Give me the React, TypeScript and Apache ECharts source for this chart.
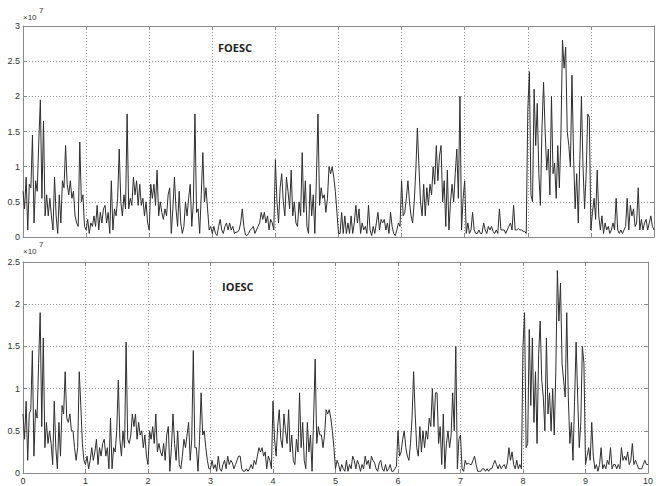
import { useEffect, useRef } from "react";
import * as echarts from "echarts";

const X_TICKS = [0, 1, 2, 3, 4, 5, 6, 7, 8, 9, 10];
const STEP = 0.025; // sampling interval along x
const TOP_TITLE = "FOESC";
const BOTTOM_TITLE = "IOESC";

// FOESC values (×10^7), x = 0 .. 4.975
const FOESC_A = [
  0.65, 0.4, 0.85, 0.1, 0.75, 0.7, 1.45, 0.2, 0.8, 0.65, 1.35, 1.95, 0.55, 1.65, 0.3, 0.6, 0.3, 0.55, 0.3, 0.1,
  0.85, 0.3, 0.05, 0.6, 0.2, 0.8, 0.7, 1.3, 0.75, 0.6, 0.8, 0.55, 0.65, 0.3, 0.2, 0.15, 1.35, 0.5, 0.6, 0.15,
  0.1, 0.25, 0.05, 0.2, 0.15, 0.3, 0.15, 0.45, 0.1, 0.35, 0.2, 0.4, 0.45, 0.2, 0.35, 0.05, 0.8, 0.1, 0.4, 0.3,
  0.55, 1.25, 0.5, 0.3, 0.6, 0.4, 1.75, 0.4, 0.55, 0.45, 0.85, 0.6, 0.8, 0.45, 0.75, 0.45, 0.55, 0.3, 0.5, 0.2,
  0.1, 0.75, 0.55, 0.75, 0.45, 0.95, 0.3, 0.5, 0.35, 0.25, 0.4, 0.3, 0.6, 0.7, 0.05, 0.4, 0.85, 0.4, 0.15, 0.65,
  0.2, 0.05, 0.15, 0.5, 0.3, 0.55, 0.75, 0.15, 0.5, 1.75, 0.35, 0.4, 0.05, 0.6, 1.2, 0.5, 0.7, 0.4, 0.1, 0.15,
  0.05, 0.15, 0.05, 0.02, 0.15, 0.25, 0.1, 0.05, 0.15, 0.2, 0.1, 0.2, 0.1, 0.15, 0.05, 0.07, 0.07, 0.1, 0.2, 0.4,
  0.15, 0.03, 0.02, 0.05, 0.1, 0.12, 0.15, 0.05, 0.1, 0.15, 0.2, 0.35, 0.25, 0.35, 0.2, 0.3, 0.1, 0.25, 0.2, 0.1,
  1.1, 0.5, 0.2, 0.7, 0.9, 0.5, 0.3, 0.85, 0.65, 0.4, 0.95, 0.3, 0.5, 0.2, 0.15, 0.5, 0.3, 1.2, 0.35, 0.8,
  0.15, 0.05, 0.75, 0.3, 0.6, 0.05, 0.85, 1.75, 0.45, 0.7, 0.55, 0.6, 0.35, 0.55, 1.0, 0.9, 1.0, 0.85, 0.65, 0.35,
];

// FOESC values (×10^7), x = 5 .. 10
const FOESC_B = [
  0.05, 0.05, 0.35, 0.05, 0.3, 0.05, 0.2, 0.05, 0.3, 0.05, 0.2, 0.45, 0.2, 0.4, 0.05, 0.2, 0.1, 0.15, 0.05, 0.45,
  0.1, 0.02, 0.15, 0.05, 0.2, 0.35, 0.1, 0.25, 0.2, 0.25, 0.1, 0.2, 0.05, 0.35, 0.15, 0.05, 0.02, 0.1, 0.2, 0.15,
  0.8, 0.3, 0.35, 0.55, 0.8, 0.5, 0.3, 0.2, 0.5, 0.95, 1.55, 1.0, 0.5, 0.3, 0.75, 0.3, 0.7, 0.45, 0.75, 0.6,
  1.0, 0.75, 1.3, 0.8, 1.15, 1.3, 0.5, 0.8, 0.15, 0.95, 0.1, 0.5, 0.75, 0.5, 0.9, 1.25, 0.55, 2.0, 0.1, 0.55,
  0.8, 0.05, 0.2, 0.05, 0.1, 0.35, 0.1, 0.05, 0.05, 0.1, 0.05, 0.05, 0.2, 0.1, 0.05, 0.15, 0.1, 0.15, 0.08, 0.05,
  0.1, 0.05, 0.4, 0.1, 0.1, 0.1, 0.05, 0.1, 0.15, 0.2, 0.1, 0.45, 0.1, 0.1, 0.12, 0.1, 0.1, 0.08, 0.08, 0.05,
  1.8, 2.35, 0.6, 0.5, 2.1, 1.3, 1.9, 0.9, 0.45, 1.55, 2.2, 1.5, 0.95, 1.25, 0.6, 2.0, 0.9, 1.05, 0.55, 1.3,
  0.7, 1.45, 2.8, 2.4, 2.7, 1.5, 1.3, 1.0, 2.3, 1.15, 0.4, 0.9, 0.2, 1.1, 2.0, 1.0, 0.4, 0.9, 1.75, 1.7,
  0.1, 0.35, 0.55, 0.25, 0.95, 0.3, 0.1, 0.3, 0.05, 0.2, 0.1, 0.15, 0.05, 0.1, 0.2, 0.1, 0.55, 0.1, 0.05, 0.1,
  0.05, 0.1, 0.15, 0.55, 0.1, 0.45, 0.3, 0.4, 0.15, 0.2, 0.7, 0.1, 0.25, 0.1, 0.2, 0.25, 0.1, 0.2, 0.3, 0.15,
  0.1,
];

// IOESC values (×10^7), x = 0 .. 4.975
const IOESC_A = [
  0.7, 0.4, 0.85, 0.15, 0.7, 0.75, 1.45, 0.2, 0.75, 0.65, 1.3, 1.9, 0.55, 1.6, 0.3, 0.6, 0.35, 0.5, 0.35, 0.1,
  0.85, 0.3, 0.05, 0.6, 0.2, 0.8, 0.7, 1.2, 0.65, 0.6, 0.7, 0.5, 0.5, 0.3, 0.15, 0.3, 1.2, 0.8, 0.35, 0.15,
  0.1, 0.2, 0.05, 0.15, 0.3, 0.15, 0.25, 0.4, 0.1, 0.3, 0.2, 0.35, 0.4, 0.2, 0.3, 0.05, 0.65, 0.05, 0.3, 0.25,
  0.5, 1.1, 0.4, 0.2, 0.5, 0.3, 1.55, 0.4, 0.35, 0.45, 0.7, 0.55, 0.7, 0.4, 0.6, 0.45, 0.5, 0.3, 0.45, 0.2,
  0.1, 0.5, 0.4, 0.55, 0.35, 0.7, 0.25, 0.35, 0.25, 0.2, 0.35, 0.15, 0.45, 0.55, 0.02, 0.3, 0.7, 0.35, 0.15, 0.5,
  0.1, 0.05, 0.2, 0.4, 0.3, 0.45, 0.6, 0.15, 0.4, 1.45, 0.3, 0.3, 0.02, 0.4, 0.95, 0.45, 0.5, 0.3, 0.15, 0.05,
  0.05, 0.15, 0.05, 0.1, 0.02, 0.2, 0.05, 0.02, 0.1, 0.15, 0.05, 0.2, 0.1, 0.15, 0.12, 0.05, 0.1, 0.15, 0.2, 0.2,
  0.05, 0.02, 0.02, 0.05, 0.02, 0.05, 0.1, 0.05, 0.15, 0.1, 0.2, 0.3, 0.25, 0.3, 0.2, 0.25, 0.05, 0.2, 0.15, 0.05,
  0.85, 0.4, 0.2, 0.55, 0.75, 0.4, 0.3, 0.7, 0.5, 0.35, 0.75, 0.25, 0.45, 0.15, 0.1, 0.4, 0.25, 0.95, 0.3, 0.6,
  0.15, 0.05, 0.6, 0.25, 0.45, 0.02, 0.65, 1.35, 0.35, 0.55, 0.45, 0.45, 0.3, 0.45, 0.75, 0.7, 0.75, 0.65, 0.5, 0.3,
];

// IOESC values (×10^7), x = 5 .. 10
const IOESC_B = [
  0.05, 0.15, 0.1, 0.02, 0.1, 0.05, 0.02, 0.15, 0.02, 0.1, 0.05, 0.2, 0.15, 0.05, 0.15, 0.1, 0.02, 0.1, 0.05, 0.2,
  0.1, 0.15, 0.05, 0.2, 0.15, 0.12, 0.05, 0.02, 0.12, 0.15, 0.05, 0.02, 0.1, 0.02, 0.05, 0.1, 0.02, 0.02, 0.05, 0.08,
  0.5, 0.2, 0.25, 0.4, 0.5, 0.3, 0.2, 0.15, 0.35, 0.65, 1.2, 0.7, 0.3, 0.2, 0.55, 0.25, 0.5, 0.3, 0.5, 0.4,
  0.65, 0.55, 1.0, 0.55, 0.95, 0.95, 0.35, 0.55, 0.1, 0.7, 0.05, 0.35, 0.5, 0.3, 0.45, 0.95, 0.5, 1.5, 0.05, 0.4,
  0.45, 0.05, 0.02, 0.15, 0.1, 0.12, 0.1, 0.1, 0.15, 0.2, 0.1, 0.02, 0.02, 0.02, 0.05, 0.05, 0.02, 0.05, 0.02, 0.05,
  0.05, 0.1, 0.15, 0.1, 0.05, 0.1, 0.05, 0.08, 0.1, 0.05, 0.12, 0.3, 0.15, 0.25, 0.1, 0.05, 0.15, 0.05, 0.1, 0.05,
  1.5, 1.9, 0.3, 0.35, 1.7, 0.8, 1.6, 0.6, 1.2, 0.35, 1.4, 1.8, 1.1, 0.9, 0.5, 1.6, 0.7, 0.95, 0.5, 1.0,
  0.45, 1.2, 2.4, 1.8, 2.25, 1.3, 1.1, 0.9, 1.9, 0.9, 0.35, 0.6, 0.15, 0.85, 1.55, 0.9, 0.3, 0.6, 1.5, 1.3,
  0.1, 0.2, 0.3, 0.15, 0.6, 0.2, 0.05, 0.1, 0.02, 0.1, 0.3, 0.05, 0.1, 0.05, 0.15, 0.1, 0.3, 0.05, 0.1, 0.1,
  0.05, 0.1, 0.05, 0.3, 0.15, 0.2, 0.15, 0.25, 0.1, 0.15, 0.35, 0.1, 0.15, 0.1, 0.05, 0.05, 0.05, 0.1, 0.15, 0.1,
  0.1,
];

const FRAME = "#8a8a8a";
const GRID = "#9a9a9a";
const LINE = "#2e2e2e";
const TEXT = "#333";

function toPairs(values: number[]) {
  return values.map((v, i) => [i * STEP, v]);
}

function xAxes(gridIndex: number, showLabels: boolean) {
  return [
    {
      type: "value",
      gridIndex,
      min: X_TICKS[0],
      max: X_TICKS[X_TICKS.length - 1],
      interval: 1,
      axisLine: { show: true, onZero: false, lineStyle: { color: FRAME, width: 1 } },
      axisTick: { show: true, inside: true, length: 4, lineStyle: { color: FRAME } },
      axisLabel: { show: showLabels, fontSize: 9, color: TEXT, margin: 3, fontFamily: "Liberation Sans" },
      splitLine: { show: true, lineStyle: { type: [1, 2], color: GRID, width: 1 } },
    },
    {
      type: "value",
      gridIndex,
      position: "top",
      min: X_TICKS[0],
      max: X_TICKS[X_TICKS.length - 1],
      interval: 1,
      axisLine: { show: true, onZero: false, lineStyle: { color: FRAME, width: 1 } },
      axisTick: { show: true, inside: true, length: 4, lineStyle: { color: FRAME } },
      axisLabel: { show: false },
      splitLine: { show: false },
    },
  ];
}

function yAxes(gridIndex: number, max: number) {
  return [
    {
      type: "value",
      gridIndex,
      min: 0,
      max,
      interval: 0.5,
      axisLine: { show: true, onZero: false, lineStyle: { color: FRAME, width: 1 } },
      axisTick: { show: true, inside: true, length: 4, lineStyle: { color: FRAME } },
      axisLabel: { show: true, fontSize: 9, color: TEXT, margin: 3, fontFamily: "Liberation Sans" },
      splitLine: { show: true, lineStyle: { type: [1, 2], color: GRID, width: 1 } },
    },
    {
      type: "value",
      gridIndex,
      position: "right",
      min: 0,
      max,
      interval: 0.5,
      axisLine: { show: true, onZero: false, lineStyle: { color: FRAME, width: 1 } },
      axisTick: { show: true, inside: true, length: 4, lineStyle: { color: FRAME } },
      axisLabel: { show: false },
      splitLine: { show: false },
    },
  ];
}

export default function App() {
  const ref = useRef<HTMLDivElement>(null);

  useEffect(() => {
    if (!ref.current) return;
    const chart = echarts.init(ref.current, undefined, { renderer: "svg" });
    const foesc = FOESC_A.concat(FOESC_B);
    const ioesc = IOESC_A.concat(IOESC_B);

    chart.setOption({
      animation: false,
      backgroundColor: "#fff",
      grid: [
        { left: 23, top: 26, width: 631, height: 211, containLabel: false },
        { left: 23, top: 262, width: 631, height: 211, containLabel: false },
      ],
      xAxis: [...xAxes(0, false), ...xAxes(1, true)],
      yAxis: [...yAxes(0, 3), ...yAxes(1, 2.5)],
      series: [
        {
          name: TOP_TITLE,
          type: "line",
          xAxisIndex: 0,
          yAxisIndex: 0,
          data: toPairs(foesc),
          showSymbol: false,
          lineStyle: { color: LINE, width: 1 },
        },
        {
          name: BOTTOM_TITLE,
          type: "line",
          xAxisIndex: 2,
          yAxisIndex: 2,
          data: toPairs(ioesc),
          showSymbol: false,
          lineStyle: { color: LINE, width: 1 },
        },
      ],
      graphic: [
        { type: "text", x: 23, y: 13, style: { text: "×10", fontSize: 8, fill: TEXT, fontFamily: "Liberation Sans" } },
        { type: "text", x: 39, y: 6, style: { text: "7", fontSize: 8, fill: TEXT, fontFamily: "Liberation Sans" } },
        { type: "text", x: 23, y: 247, style: { text: "×10", fontSize: 8, fill: TEXT, fontFamily: "Liberation Sans" } },
        { type: "text", x: 39, y: 240, style: { text: "7", fontSize: 8, fill: TEXT, fontFamily: "Liberation Sans" } },
        {
          type: "text",
          x: 218,
          y: 42,
          style: { text: TOP_TITLE, fontSize: 11, fontWeight: "bold", fill: "#222", fontFamily: "Open Sans" },
        },
        {
          type: "text",
          x: 222,
          y: 281,
          style: { text: BOTTOM_TITLE, fontSize: 11, fontWeight: "bold", fill: "#222", fontFamily: "Open Sans" },
        },
      ],
    });

    return () => chart.dispose();
  }, []);

  return (
    <div
      ref={ref}
      style={{ position: "absolute", left: 0, top: 0, width: 656, height: 486, background: "#fff" }}
    />
  );
}
